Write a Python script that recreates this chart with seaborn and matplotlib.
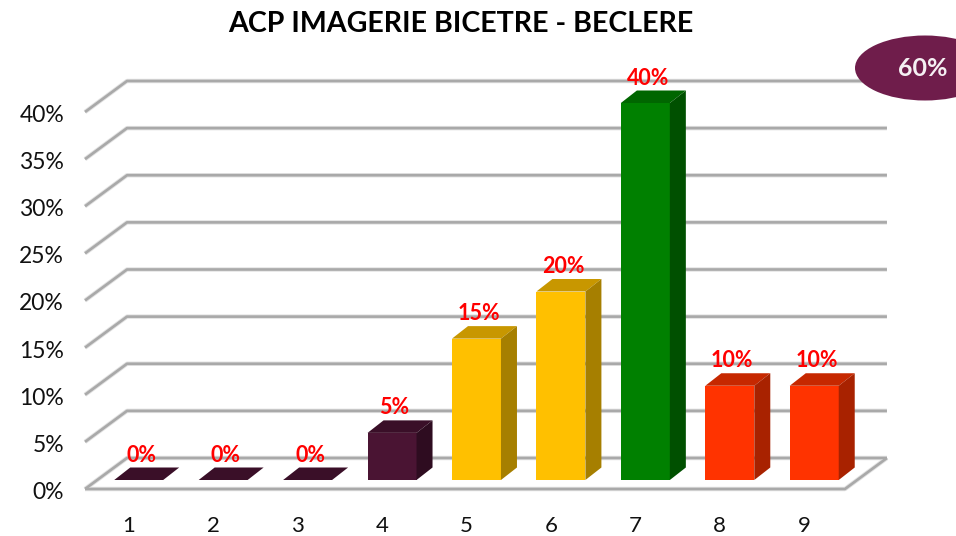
import pandas as pd
import matplotlib
matplotlib.use('Agg')
import matplotlib.pyplot as plt
from matplotlib.patches import Ellipse, Polygon
import seaborn as sns

# Chart data
categories = ['1', '2', '3', '4', '5', '6', '7', '8', '9']
values = [0, 0, 0, 5, 15, 20, 40, 10, 10]
grid_values = [0, 5, 10, 15, 20, 25, 30, 35, 40]
grid_labels = ['0%', '5%', '10%', '15%', '20%', '25%', '30%', '35%', '40%']
badge_label = '60%'
title = 'ACP IMAGERIE BICETRE - BECLERE'

# Colours per bar: front, top, side
front_colors = ['#4a1433'] * 4 + ['#ffc000'] * 2 + ['#008000'] + ['#ff3300'] * 2
top_colors = ['#3a0f28'] * 4 + ['#c89700'] * 2 + ['#006600'] + ['#c62800'] * 2
side_colors = ['#2e0c20'] * 4 + ['#a67f00'] * 2 + ['#005000'] + ['#a82200'] * 2

W, H = 956, 536
PX_X = 84.44   # pixels per category
PX_Y = 9.425   # pixels per percent
LEFT, BASE = 96.5, 480


def dx(px):
    return px / PX_X


def dy(px):
    return px / PX_Y


sns.set_theme(style='white')
plt.rcParams['font.family'] = ['Lato', 'DejaVu Sans']

fig = plt.figure(figsize=(W / 100, H / 100), dpi=100)
ax = fig.add_axes([LEFT / W, (H - BASE) / H, 9 * PX_X / W, 40 * PX_Y / H])

df = pd.DataFrame({'category': categories, 'value': values})
sns.barplot(data=df, x='category', y='value', hue='category', palette=front_colors,
            legend=False, width=0.58, gap=0, saturation=1, linewidth=0, ax=ax, zorder=3)
ax.set_xlim(-0.5, 8.5)
ax.set_ylim(0, 40)
ax.axis('off')

# Walls and floor of the 3D frame
back_l, back_r = -0.5 + dx(30.5), 8.5 + dx(30.5)
front_l, front_r = -0.5 - dx(11.5), 8.5 - dx(11.5)
back_up, front_down = dy(22), -dy(9)
line = dict(color='#a9a9a9', clip_on=False, solid_capstyle='butt', zorder=1)
shadow = dict(color='#e2e2e2', clip_on=False, solid_capstyle='butt', zorder=0.5)
for v, lab in zip(grid_values, grid_labels):
    ax.plot([front_l, back_l, back_r], [v + front_down, v + back_up, v + back_up], lw=1.9, **line)
    ax.plot([front_l, back_l, back_r], [v + front_down, v + back_up, v + back_up], lw=3.2, **shadow)
    ax.text(front_l - dx(21), v + front_down - dy(3.5), lab, ha='right', va='center',
            fontsize=16.5, color='#111111', clip_on=False)
ax.plot([back_r, front_r, front_l], [back_up, front_down, front_down], lw=1.9, **line)
ax.plot([back_r, front_r, front_l], [back_up, front_down, front_down], lw=3.2, **shadow)

# Depth faces and labels for every bar
half = 0.29
for i, v in enumerate(values):
    top = [(i - half, v), (i + half, v), (i + half + dx(16), v + dy(12.5)), (i - half + dx(16), v + dy(12.5))]
    ax.add_patch(Polygon(top, closed=True, facecolor=top_colors[i], edgecolor='none', clip_on=False, zorder=3))
    if v > 0:
        side = [(i + half, 0), (i + half + dx(16), dy(12.5)), (i + half + dx(16), v + dy(12.5)), (i + half, v)]
        ax.add_patch(Polygon(side, closed=True, facecolor=side_colors[i], edgecolor='none', clip_on=False, zorder=3))
    ax.text(i + dx(2.5), v + dy(25), f'{v}%', ha='center', va='center', color='#ff0000',
            fontsize=15.5, fontweight='bold', clip_on=False, zorder=5)
    ax.text(i - dx(10), -dy(46), categories[i], ha='center', va='center', fontsize=16,
            color='#111111', clip_on=False)

# Title and badge live in figure pixels
overlay = fig.add_axes([0, 0, 1, 1], facecolor='none')
overlay.set_xlim(0, W)
overlay.set_ylim(H, 0)
overlay.axis('off')
overlay.text(461, 24, title, ha='center', va='center', fontsize=20.6, fontweight='bold', color='#000000')
overlay.add_patch(Ellipse((925, 68), 140, 65, facecolor='#6f1d4b', edgecolor='none', zorder=4))
overlay.text(923, 69, badge_label, ha='center', va='center', fontsize=18, fontweight='bold',
             color='#f5f0f3', zorder=5)

fig.savefig('out.png', dpi=100)
